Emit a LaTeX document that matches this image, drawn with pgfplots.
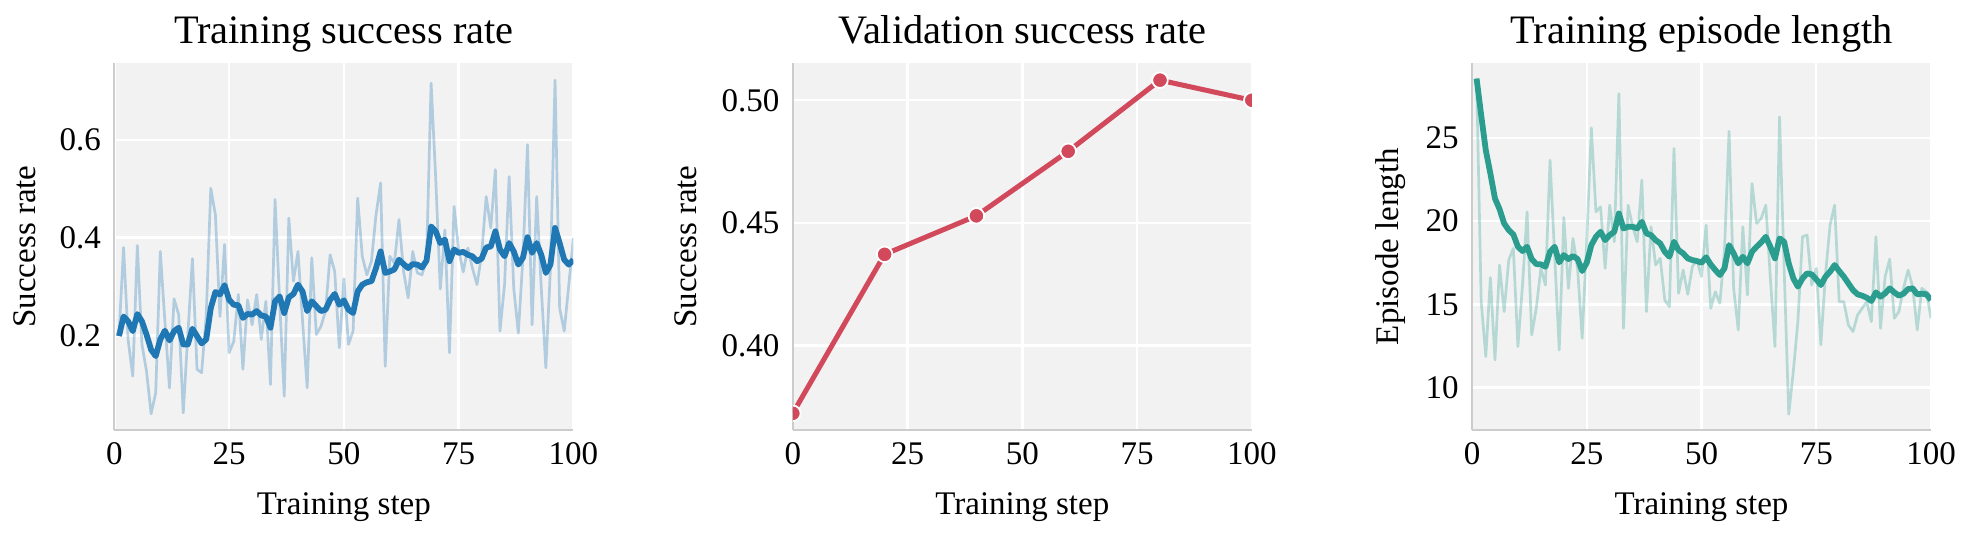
\documentclass[border=0pt]{standalone}
\usepackage{fontspec}
\setmainfont{Liberation Serif}
\usepackage{pgfplots}
\pgfplotsset{compat=1.18}
\definecolor{bg}{HTML}{F2F2F2}
\definecolor{spine}{HTML}{CCCCCC}
\definecolor{tblue}{HTML}{1F77B4}
\definecolor{crim}{HTML}{D1495B}
\definecolor{teal2}{HTML}{2A9D8F}
\pgfplotsset{
 panel/.style={
  scale only axis, width=229.5pt, height=183.5pt,
  xmin=0, xmax=100, xtick={0,25,50,75,100},
  axis background/.style={fill=bg},
  grid=major, major grid style={white, line width=1.2pt},
  axis x line*=bottom, axis y line*=left,
  axis line style={spine, line width=1pt, -},
  x axis line style={-}, y axis line style={-},
  major tick length=0pt,
  /pgf/number format/assume math mode=true,
  xticklabel={\pgfmathprintnumber{\tick}},
  yticklabel={\pgfmathprintnumber{\tick}},
  xticklabel style={font=\fontsize{16.5}{18}\selectfont, anchor=base, inner sep=0pt, yshift=-17.3pt},
  yticklabel style={font=\fontsize{16.5}{18}\selectfont, anchor=east, inner sep=0pt, xshift=-6.5pt},
  xlabel style={font=\fontsize{16.5}{18}\selectfont, at={(axis description cs:0.5,0)}, anchor=base, inner sep=0pt, yshift=-42.5pt},
  ylabel style={font=\fontsize{16.5}{18}\selectfont, at={(axis description cs:0,0.5)}, anchor=center, inner sep=0pt},
  title style={font=\fontsize{20.2}{22}\selectfont, text depth=0pt},
  xlabel={Training step},
  clip marker paths=true,
 }
}
\begin{document}
\begin{tikzpicture}
\path[use as bounding box] (0,0) rectangle (984.5pt,267pt);
% Panel 1
\begin{axis}[panel, at={(57.2pt,52pt)}, anchor=south west,
  ymin=0.007, ymax=0.757, ytick={0.2,0.4,0.6},
  ylabel={Success rate}, ylabel style={yshift=44.65pt}, title={Training success rate}]
\addplot[tblue, opacity=0.3, line width=1.35pt, line join=round] coordinates {
(1,0.200)(2,0.380)(3,0.190)(4,0.117)(5,0.384)(6,0.182)(7,0.127)(8,0.040)(9,0.083)(10,0.372)
(11,0.229)(12,0.093)(13,0.275)(14,0.243)(15,0.042)(16,0.202)(17,0.357)(18,0.131)(19,0.124)(20,0.240)
(21,0.501)(22,0.447)(23,0.239)(24,0.386)(25,0.165)(26,0.188)(27,0.284)(28,0.131)(29,0.273)(30,0.222)
(31,0.284)(32,0.192)(33,0.270)(34,0.100)(35,0.478)(36,0.270)(37,0.076)(38,0.440)(39,0.311)(40,0.372)
(41,0.229)(42,0.093)(43,0.359)(44,0.202)(45,0.219)(46,0.250)(47,0.365)(48,0.331)(49,0.175)(50,0.316)
(51,0.182)(52,0.209)(53,0.481)(54,0.362)(55,0.324)(56,0.352)(57,0.447)(58,0.512)(59,0.137)(60,0.362)
(61,0.348)(62,0.437)(63,0.331)(64,0.277)(65,0.372)(66,0.328)(67,0.324)(68,0.352)(69,0.716)(70,0.522)
(71,0.295)(72,0.416)(73,0.165)(74,0.464)(75,0.375)(76,0.330)(77,0.379)(78,0.338)(79,0.304)(80,0.365)
(81,0.484)(82,0.420)(83,0.539)(84,0.209)(85,0.304)(86,0.525)(87,0.297)(88,0.205)(89,0.359)(90,0.590)
(91,0.222)(92,0.484)(93,0.297)(94,0.134)(95,0.338)(96,0.722)(97,0.256)(98,0.209)(99,0.304)(100,0.399)
};
\addplot[tblue, line width=2.9pt, line join=round] coordinates {
(1,0.199)(2,0.239)(3,0.229)(4,0.209)(5,0.244)(6,0.229)(7,0.202)(8,0.171)(9,0.158)(10,0.192)
(11,0.210)(12,0.190)(13,0.209)(14,0.216)(15,0.182)(16,0.182)(17,0.214)(18,0.199)(19,0.184)(20,0.192)
(21,0.256)(22,0.289)(23,0.284)(24,0.303)(25,0.273)(26,0.263)(27,0.262)(28,0.236)(29,0.244)(30,0.243)
(31,0.250)(32,0.241)(33,0.239)(34,0.216)(35,0.270)(36,0.280)(37,0.246)(38,0.278)(39,0.285)(40,0.304)
(41,0.290)(42,0.250)(43,0.270)(44,0.260)(45,0.250)(46,0.253)(47,0.273)(48,0.285)(49,0.263)(50,0.272)
(51,0.253)(52,0.246)(53,0.290)(54,0.304)(55,0.309)(56,0.311)(57,0.338)(58,0.372)(59,0.328)(60,0.331)
(61,0.335)(62,0.355)(63,0.346)(64,0.338)(65,0.346)(66,0.345)(67,0.339)(68,0.353)(69,0.423)(70,0.413)
(71,0.389)(72,0.396)(73,0.352)(74,0.376)(75,0.369)(76,0.371)(77,0.365)(78,0.362)(79,0.352)(80,0.357)
(81,0.380)(82,0.382)(83,0.413)(84,0.376)(85,0.362)(86,0.389)(87,0.372)(88,0.345)(89,0.359)(90,0.401)
(91,0.369)(92,0.389)(93,0.365)(94,0.328)(95,0.345)(96,0.420)(97,0.389)(98,0.355)(99,0.345)(100,0.355)
};
\end{axis}
% Panel 2
\begin{axis}[panel, at={(396.4pt,52pt)}, anchor=south west,
  ymin=0.3656, ymax=0.5152, ytick={0.40,0.45,0.50},
  yticklabel style={/pgf/number format/.cd, fixed, fixed zerofill, precision=2},
  ylabel={Success rate}, ylabel style={yshift=53.35pt}, title={Validation success rate}]
\addplot[crim, line width=2.5pt, line join=round, mark=*, mark size=3.9pt,
  mark options={fill=crim, draw=white, line width=0.9pt}] coordinates {
(0,0.3724)(20,0.4372)(40,0.4529)(60,0.4792)(80,0.5082)(100,0.5000)
};
\end{axis}
% Panel 3
\begin{axis}[panel, at={(736.0pt,52pt)}, anchor=south west,
  ymin=7.45, ymax=29.5, ytick={10,15,20,25},
  ylabel={Episode length}, ylabel style={yshift=40.5pt}, title={Training episode length}]
\addplot[teal2, opacity=0.3, line width=1.35pt, line join=round] coordinates {
(1,28.6)(2,15.16)(3,11.86)(4,16.6)(5,11.66)(6,17.36)(7,14.56)(8,17.66)(9,18.36)(10,12.46)
(11,16.16)(12,20.56)(13,13.16)(14,14.76)(15,17.16)(16,16.16)(17,23.66)(18,17.96)(19,12.26)(20,20.22)
(21,15.96)(22,18.96)(23,17.16)(24,12.96)(25,18.86)(26,25.6)(27,20.56)(28,20.86)(29,17.16)(30,20.96)
(31,18.76)(32,27.66)(33,13.56)(34,20.96)(35,19.66)(36,18.76)(37,22.46)(38,14.56)(39,19.66)(40,17.36)
(41,17.76)(42,15.26)(43,14.86)(44,24.36)(45,15.66)(46,17.06)(47,15.6)(48,17.26)(49,17.66)(50,16.66)
(51,19.76)(52,14.76)(53,15.76)(54,15.06)(55,18.26)(56,25.4)(57,15.96)(58,13.46)(59,19.66)(60,15.56)
(61,22.26)(62,19.86)(63,20.16)(64,20.96)(65,16.56)(66,12.46)(67,26.26)(68,17.16)(69,8.4)(70,10.96)
(71,14.0)(72,19.06)(73,19.16)(74,16.16)(75,17.16)(76,12.56)(77,16.76)(78,19.76)(79,20.96)(80,15.16)
(81,15.16)(82,13.76)(83,13.36)(84,14.36)(85,14.76)(86,15.16)(87,13.96)(88,19.06)(89,13.56)(90,16.66)
(91,17.72)(92,14.16)(93,14.56)(94,15.96)(95,17.06)(96,16.06)(97,13.46)(98,15.96)(99,15.76)(100,14.16)
};
\addplot[teal2, line width=2.9pt, line join=round] coordinates {
(1,28.56)(2,26.36)(3,24.26)(4,22.86)(5,21.36)(6,20.72)(7,19.86)(8,19.46)(9,19.2)(10,18.46)
(11,18.2)(12,18.46)(13,17.72)(14,17.42)(15,17.4)(16,17.26)(17,18.16)(18,18.46)(19,17.52)(20,17.96)
(21,17.72)(22,17.9)(23,17.72)(24,17.0)(25,17.5)(26,18.56)(27,19.06)(28,19.36)(29,18.86)(30,19.16)
(31,19.36)(32,20.46)(33,19.56)(34,19.66)(35,19.66)(36,19.56)(37,19.96)(38,19.26)(39,19.16)(40,18.86)
(41,18.66)(42,18.16)(43,17.86)(44,18.76)(45,18.26)(46,18.06)(47,17.76)(48,17.66)(49,17.6)(50,17.5)
(51,17.83)(52,17.4)(53,17.06)(54,16.76)(55,17.16)(56,18.56)(57,18.06)(58,17.46)(59,17.86)(60,17.46)
(61,18.16)(62,18.46)(63,18.72)(64,19.06)(65,18.46)(66,17.76)(67,18.96)(68,18.76)(69,17.46)(70,16.56)
(71,16.06)(72,16.56)(73,16.86)(74,16.8)(75,16.5)(76,16.16)(77,16.66)(78,16.96)(79,17.36)(80,17.0)
(81,16.66)(82,16.26)(83,15.86)(84,15.6)(85,15.52)(86,15.4)(87,15.2)(88,15.72)(89,15.46)(90,15.66)
(91,15.96)(92,15.72)(93,15.52)(94,15.64)(95,15.92)(96,15.96)(97,15.6)(98,15.64)(99,15.6)(100,15.26)
};
\end{axis}
\end{tikzpicture}
\end{document}
